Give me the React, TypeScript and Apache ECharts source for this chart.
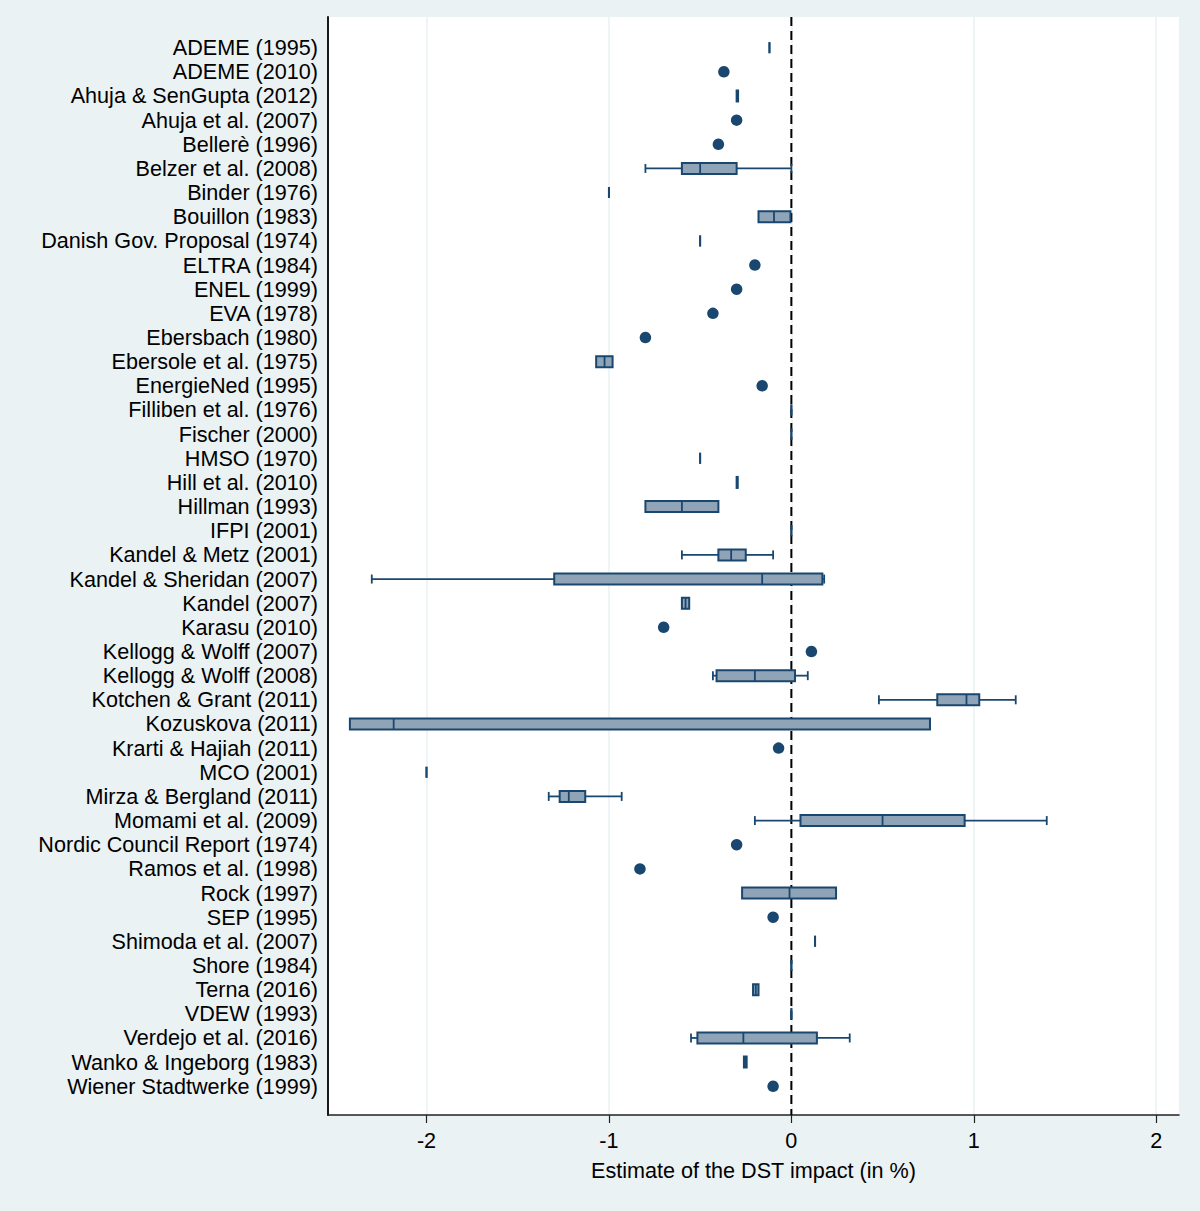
import { useRef, useEffect } from "react";
import * as echarts from "echarts";

// study labels, top to bottom
const studies = [
  "ADEME (1995)",
  "ADEME (2010)",
  "Ahuja & SenGupta (2012)",
  "Ahuja et al. (2007)",
  "Bellerè (1996)",
  "Belzer et al. (2008)",
  "Binder (1976)",
  "Bouillon (1983)",
  "Danish Gov. Proposal (1974)",
  "ELTRA (1984)",
  "ENEL (1999)",
  "EVA (1978)",
  "Ebersbach (1980)",
  "Ebersole et al. (1975)",
  "EnergieNed (1995)",
  "Filliben et al. (1976)",
  "Fischer (2000)",
  "HMSO (1970)",
  "Hill et al. (2010)",
  "Hillman (1993)",
  "IFPI (2001)",
  "Kandel & Metz (2001)",
  "Kandel & Sheridan (2007)",
  "Kandel (2007)",
  "Karasu (2010)",
  "Kellogg & Wolff (2007)",
  "Kellogg & Wolff (2008)",
  "Kotchen & Grant (2011)",
  "Kozuskova (2011)",
  "Krarti & Hajiah (2011)",
  "MCO (2001)",
  "Mirza & Bergland (2011)",
  "Momami et al. (2009)",
  "Nordic Council Report (1974)",
  "Ramos et al. (1998)",
  "Rock (1997)",
  "SEP (1995)",
  "Shimoda et al. (2007)",
  "Shore (1984)",
  "Terna (2016)",
  "VDEW (1993)",
  "Verdejo et al. (2016)",
  "Wanko & Ingeborg (1983)",
  "Wiener Stadtwerke (1999)",
];

// box plots: [study, lower whisker, q1, median, q3, upper whisker]
const boxStats: [string, number, number, number, number, number][] = [
  ["ADEME (1995)", -0.12, -0.12, -0.12, -0.12, -0.12],
  ["Ahuja & SenGupta (2012)", -0.3, -0.3, -0.296, -0.292, -0.292],
  ["Belzer et al. (2008)", -0.8, -0.6, -0.5, -0.3, 0.0],
  ["Binder (1976)", -1.0, -1.0, -1.0, -1.0, -1.0],
  ["Bouillon (1983)", -0.18, -0.18, -0.095, -0.005, -0.005],
  ["Danish Gov. Proposal (1974)", -0.5, -0.5, -0.5, -0.5, -0.5],
  ["Ebersole et al. (1975)", -1.07, -1.07, -1.024, -0.98, -0.98],
  ["Filliben et al. (1976)", 0, 0, 0, 0, 0],
  ["Fischer (2000)", 0, 0, 0, 0, 0],
  ["HMSO (1970)", -0.5, -0.5, -0.5, -0.5, -0.5],
  ["Hill et al. (2010)", -0.3, -0.3, -0.297, -0.294, -0.294],
  ["Hillman (1993)", -0.8, -0.8, -0.6, -0.4, -0.4],
  ["IFPI (2001)", 0, 0, 0, 0, 0],
  ["Kandel & Metz (2001)", -0.6, -0.4, -0.33, -0.25, -0.1],
  ["Kandel & Sheridan (2007)", -2.3, -1.3, -0.16, 0.17, 0.18],
  ["Kandel (2007)", -0.6, -0.6, -0.58, -0.56, -0.56],
  ["Kellogg & Wolff (2008)", -0.43, -0.41, -0.2, 0.02, 0.09],
  ["Kotchen & Grant (2011)", 0.48, 0.8, 0.96, 1.03, 1.23],
  ["Kozuskova (2011)", -2.42, -2.42, -2.18, 0.76, 0.76],
  ["MCO (2001)", -2.0, -2.0, -2.0, -2.0, -2.0],
  ["Mirza & Bergland (2011)", -1.33, -1.27, -1.22, -1.13, -0.93],
  ["Momami et al. (2009)", -0.2, 0.05, 0.5, 0.95, 1.4],
  ["Rock (1997)", -0.27, -0.27, -0.01, 0.245, 0.245],
  ["Shimoda et al. (2007)", 0.13, 0.13, 0.13, 0.13, 0.13],
  ["Shore (1984)", 0, 0, 0, 0, 0],
  ["Terna (2016)", -0.21, -0.21, -0.195, -0.18, -0.18],
  ["VDEW (1993)", 0, 0, 0, 0, 0],
  ["Verdejo et al. (2016)", -0.55, -0.515, -0.263, 0.14, 0.32],
  ["Wanko & Ingeborg (1983)", -0.26, -0.26, -0.253, -0.245, -0.245],
];

// single estimates shown as dots: [study, value]
const pointStats: [string, number][] = [
  ["ADEME (2010)", -0.37],
  ["Ahuja et al. (2007)", -0.3],
  ["Bellerè (1996)", -0.4],
  ["ELTRA (1984)", -0.2],
  ["ENEL (1999)", -0.3],
  ["EVA (1978)", -0.43],
  ["Ebersbach (1980)", -0.8],
  ["EnergieNed (1995)", -0.16],
  ["Karasu (2010)", -0.7],
  ["Kellogg & Wolff (2007)", 0.11],
  ["Krarti & Hajiah (2011)", -0.07],
  ["Nordic Council Report (1974)", -0.3],
  ["Ramos et al. (1998)", -0.83],
  ["SEP (1995)", -0.1],
  ["Wiener Stadtwerke (1999)", -0.1],
];

const xTicks = [-2, -1, 0, 1, 2];
const X_MIN = -2.54;
const X_MAX = 2.125;
const Y_MIN = -1.27;
const Y_MAX = 44.19;

const NAVY = "#1a476f";
const BOX_FILL = "#90a4b8";
const BG = "#eaf2f3";
const FONT = "Liberation Sans, Arial, Helvetica, sans-serif";

const App = () => {
  const chartRef = useRef<HTMLDivElement>(null);

  useEffect(() => {
    if (!chartRef.current) return;
    const myChart = echarts.init(chartRef.current, null, { renderer: "svg" });

    const rowOf = (name: string) => studies.indexOf(name);
    const boxData = boxStats.map(([name, lo, q1, med, q3, hi]) => [rowOf(name), lo, q1, med, q3, hi]);
    const pointData = pointStats.map(([name, v]) => [v, rowOf(name)]);

    const BOX_H = 11;
    const CAP_H = 9;

    const option: any = {
      animation: false,
      backgroundColor: BG,
      grid: {
        left: 328,
        right: 21,
        top: 17,
        bottom: 96,
        show: true,
        backgroundColor: "#ffffff",
        borderWidth: 0,
      },
      xAxis: {
        type: "value",
        min: X_MIN,
        max: X_MAX,
        name: "Estimate of the DST impact (in %)",
        nameLocation: "middle",
        nameGap: 44,
        nameTextStyle: { fontFamily: FONT, fontSize: 21.6, color: "#000" },
        axisLine: { show: true, onZero: false, lineStyle: { color: "#222", width: 1.5 } },
        axisTick: { show: true, customValues: xTicks, length: 8, lineStyle: { color: "#222", width: 1.2 } },
        axisLabel: {
          customValues: xTicks,
          fontFamily: FONT,
          fontSize: 21.6,
          color: "#000",
          margin: 14,
          formatter: (v: number) => String(v),
        },
        splitLine: { show: true, lineStyle: { color: BG, width: 1.5 } },
      },
      yAxis: {
        type: "value",
        inverse: true,
        min: Y_MIN,
        max: Y_MAX,
        axisLine: { show: true, onZero: false, lineStyle: { color: "#000", width: 1.8 } },
        axisTick: { show: false },
        splitLine: { show: false },
        axisLabel: {
          customValues: studies.map((_, i) => i),
          formatter: (v: number) => studies[Math.round(v)] ?? "",
          fontFamily: FONT,
          fontSize: 21.6,
          color: "#000",
          margin: 10,
        },
      },
      series: [
        {
          // reference line at zero
          type: "line",
          name: "zero",
          z: 1,
          silent: true,
          symbol: "none",
          data: [
            [0, Y_MIN],
            [0, Y_MAX],
          ],
          lineStyle: { color: "#000", width: 2, type: [9, 5] },
        },
        {
          type: "custom",
          name: "boxes",
          z: 3,
          data: boxData,
          encode: { x: [1, 2, 3, 4, 5], y: 0 },
          renderItem: (_params: any, api: any) => {
            const row = api.value(0);
            const lo = api.coord([api.value(1), row]);
            const q1 = api.coord([api.value(2), row]);
            const med = api.coord([api.value(3), row]);
            const q3 = api.coord([api.value(4), row]);
            const hi = api.coord([api.value(5), row]);
            const y = q1[1];
            const line = { stroke: NAVY, lineWidth: 1.8 };
            const children: any[] = [];
            if (q1[0] - lo[0] > 0.5) {
              children.push({ type: "line", shape: { x1: lo[0], y1: y, x2: q1[0], y2: y }, style: line });
              children.push({ type: "line", shape: { x1: lo[0], y1: y - CAP_H / 2, x2: lo[0], y2: y + CAP_H / 2 }, style: line });
            }
            if (hi[0] - q3[0] > 0.5) {
              children.push({ type: "line", shape: { x1: q3[0], y1: y, x2: hi[0], y2: y }, style: line });
              children.push({ type: "line", shape: { x1: hi[0], y1: y - CAP_H / 2, x2: hi[0], y2: y + CAP_H / 2 }, style: line });
            }
            children.push({
              type: "rect",
              shape: { x: q1[0], y: y - BOX_H / 2, width: q3[0] - q1[0], height: BOX_H },
              style: { fill: BOX_FILL, stroke: NAVY, lineWidth: 2 },
            });
            children.push({
              type: "line",
              shape: { x1: med[0], y1: y - BOX_H / 2, x2: med[0], y2: y + BOX_H / 2 },
              style: line,
            });
            return { type: "group", children };
          },
        },
        {
          type: "scatter",
          name: "points",
          z: 3,
          data: pointData,
          symbol: "circle",
          symbolSize: 11.5,
          itemStyle: { color: NAVY, opacity: 1 },
        },
      ],
    };

    myChart.setOption(option);
    return () => {
      myChart.dispose();
    };
  }, []);

  return (
    <div
      ref={chartRef}
      style={{ position: "absolute", left: 0, top: 0, width: 1200, height: 1211 }}
    ></div>
  );
};

export default App;
